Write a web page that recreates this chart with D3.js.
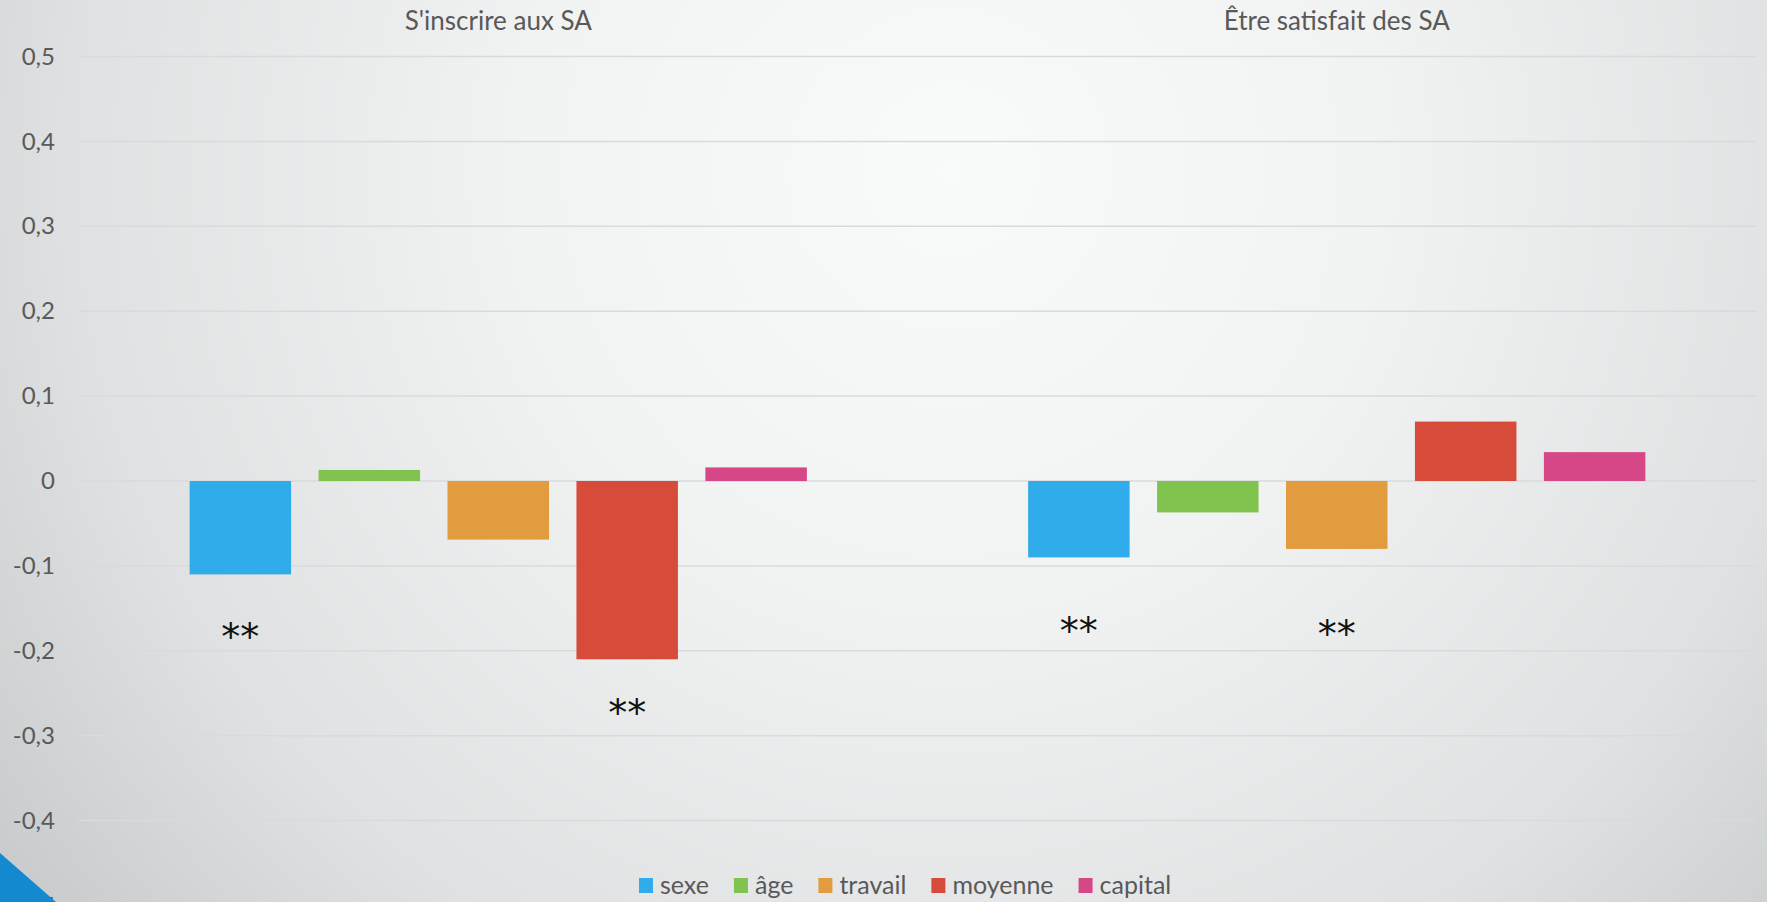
<!doctype html>
<html lang="fr">
<head>
<meta charset="utf-8">
<title>SA - effets</title>
<script src="https://cdnjs.cloudflare.com/ajax/libs/d3/7.8.5/d3.min.js"></script>
<style>
  html, body { margin: 0; padding: 0; overflow: hidden; }
  body { width: 1767px; height: 902px; }
  text { font-family: Lato, "Open Sans", sans-serif; }
</style>
</head>
<body>
<div id="chart"></div>
<script>
// data
var groups = ["S'inscrire aux SA", "Être satisfait des SA"];
var series = ["sexe", "âge", "travail", "moyenne", "capital"];
var inscrire = [-0.11, 0.013, -0.069, -0.21, 0.016];
var satisfait = [-0.09, -0.037, -0.08, 0.07, 0.034];
var yTicks = [0.5, 0.4, 0.3, 0.2, 0.1, 0, -0.1, -0.2, -0.3, -0.4, -0.5];
// significance marks: group index, series name, vertical position (axis units)
var sigMarks = [
  { group: 0, serie: "sexe", at: -0.179 },
  { group: 0, serie: "moyenne", at: -0.269 },
  { group: 1, serie: "sexe", at: -0.172 },
  { group: 1, serie: "travail", at: -0.176 }
];

var colours = ["#30acea", "#80c44f", "#e29b3e", "#d74b3b", "#d64788"];

var width = 1767, height = 902;
var margin = { left: 79, right: 11 };

var svg = d3.select("#chart").append("svg")
    .attr("width", width)
    .attr("height", height);

// slide background
var defs = svg.append("defs");
var grad = defs.append("radialGradient")
    .attr("id", "bg")
    .attr("gradientUnits", "userSpaceOnUse")
    .attr("cx", 950).attr("cy", 170).attr("r", 1250);
grad.append("stop").attr("offset", 0).attr("stop-color", "#f9fafa");
grad.append("stop").attr("offset", 0.35).attr("stop-color", "#f1f2f2");
grad.append("stop").attr("offset", 0.7).attr("stop-color", "#dfe1e2");
grad.append("stop").attr("offset", 1).attr("stop-color", "#c3c6c8");

svg.append("rect")
    .attr("width", width).attr("height", height)
    .attr("fill", "url(#bg)");

var y = d3.scaleLinear()
    .domain([-0.5, 0.5])
    .range([905.5, 56.5]);

var x0 = d3.scaleBand()
    .domain(groups)
    .range([margin.left, width - margin.right]);

var x1 = d3.scaleBand()
    .domain(series)
    .range([0, x0.bandwidth()])
    .paddingInner(0.213)
    .paddingOuter(0.858);

var fmt = function(v) { return d3.format(".1f")(v).replace(".", ",").replace("−", "-"); };

// gridlines
svg.append("g")
    .selectAll("line")
    .data(yTicks)
    .join("line")
      .attr("x1", margin.left)
      .attr("x2", width - margin.right)
      .attr("y1", d => y(d))
      .attr("y2", d => y(d))
      .attr("stroke", "#d8dadb")
      .attr("stroke-width", 1.5);

// y axis
var yAxis = svg.append("g")
    .attr("transform", "translate(55,0)")
    .call(d3.axisLeft(y).tickValues(yTicks).tickSize(0).tickPadding(0)
        .tickFormat(d => d === 0 ? "0" : fmt(d)));
yAxis.select(".domain").remove();
yAxis.selectAll("text")
    .attr("fill", "#595959")
    .style("font-size", "24px")
    .style("font-family", "Lato, sans-serif");

// group titles
svg.append("g")
    .selectAll("text")
    .data(groups)
    .join("text")
      .attr("x", d => x0(d) + x0.bandwidth() / 2)
      .attr("y", 30)
      .attr("text-anchor", "middle")
      .attr("fill", "#595959")
      .style("font-size", "26px")
      .text(d => d);

// bars
var table = groups.map(function(g, i) {
  var vals = i === 0 ? inscrire : satisfait;
  return { group: g, values: series.map((s, j) => ({ serie: s, value: vals[j], colour: colours[j] })) };
});

svg.append("g")
    .selectAll("g")
    .data(table)
    .join("g")
      .attr("transform", d => "translate(" + x0(d.group) + ",0)")
    .selectAll("rect")
    .data(d => d.values)
    .join("rect")
      .attr("x", d => x1(d.serie))
      .attr("width", x1.bandwidth())
      .attr("y", d => y(Math.max(0, d.value)))
      .attr("height", d => Math.abs(y(d.value) - y(0)))
      .attr("fill", d => d.colour);

// significance stars
svg.append("g")
    .selectAll("text")
    .data(sigMarks)
    .join("text")
      .attr("x", d => x0(groups[d.group]) + x1(d.serie) + x1.bandwidth() / 2)
      .attr("y", d => y(d.at) + 17)
      .attr("text-anchor", "middle")
      .attr("fill", "#111")
      .style("font-family", "'DejaVu Sans', sans-serif")
      .style("font-size", "38px")
      .text("**");

// legend
var legend = svg.append("g").attr("transform", "translate(639,0)");
var lx = 0;
series.forEach(function(s, i) {
  var item = legend.append("g").attr("transform", "translate(" + lx + ",0)");
  item.append("rect")
      .attr("x", 0).attr("y", 878)
      .attr("width", 14).attr("height", 15)
      .attr("fill", colours[i]);
  var t = item.append("text")
      .attr("x", 21).attr("y", 894)
      .attr("fill", "#595959")
      .style("font-size", "25px")
      .text(s);
  lx += 21 + t.node().getComputedTextLength() + 25;
});

// corner decoration of the slide
svg.append("path")
    .attr("d", "M0,853 L56,902 L0,902 Z")
    .attr("fill", "#1489cf");
</script>
</body>
</html>
